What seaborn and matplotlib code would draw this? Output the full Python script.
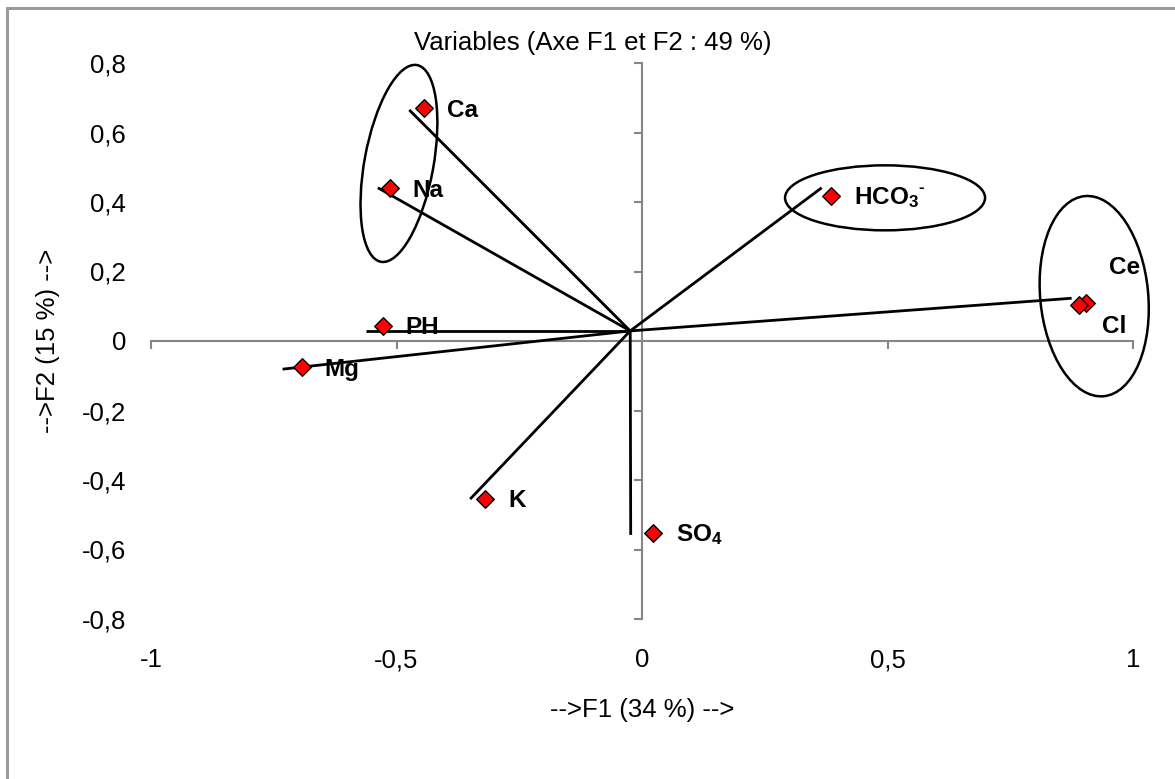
import matplotlib
matplotlib.use('Agg')
import matplotlib.pyplot as plt
from matplotlib.patches import Ellipse
from matplotlib.lines import Line2D
from matplotlib.transforms import ScaledTranslation
import seaborn as sns
import pandas as pd

# coordinates of the variables on F1 / F2
variables = ['Ca', 'Na', 'PH', 'Mg', 'HCO3', 'Ce', 'Cl', 'K', 'SO4']
f1 = [-0.444, -0.514, -0.528, -0.693, 0.385, 0.904, 0.891, -0.319, 0.022]
f2 = [0.670, 0.439, 0.044, -0.076, 0.418, 0.108, 0.104, -0.455, -0.552]
point_labels = ['Ca', 'Na', 'PH', 'Mg', r'HCO$_\mathbf{3}$',
                'Ce', 'Cl', 'K', r'SO$_\mathbf{4}$']

# hand drawn vectors, all leaving from one point near the origin
vec_start = (-0.024, 0.029)
vec_end_f1 = [-0.474, -0.538, -0.562, -0.732, 0.366, 0.875, -0.350, -0.023]
vec_end_f2 = [0.665, 0.441, 0.029, -0.081, 0.441, 0.123, -0.455, -0.558]

x_ticks = [-1, -0.5, 0, 0.5, 1]
x_ticklabels = ['-1', '-0,5', '0', '0,5', '1']
y_ticks = [-0.8, -0.6, -0.4, -0.2, 0, 0.2, 0.4, 0.6, 0.8]
y_ticklabels = ['-0,8', '-0,6', '-0,4', '-0,2', '0', '0,2', '0,4', '0,6', '0,8']

# circled groups: centre on F1/F2
group_f1 = [-0.495, 0.495, 0.921]
group_f2 = [0.511, 0.412, 0.129]

df = pd.DataFrame({'var': variables, 'F1': f1, 'F2': f2})

sns.set_theme(style='white')
plt.rcParams['font.family'] = ['Liberation Sans', 'DejaVu Sans']
plt.rcParams['text.color'] = 'black'
plt.rcParams['mathtext.fontset'] = 'custom'
plt.rcParams['mathtext.rm'] = 'Liberation Sans'
plt.rcParams['mathtext.bf'] = 'Liberation Sans:bold'
plt.rcParams['mathtext.it'] = 'Liberation Sans:italic'

W, H = 1175, 779
fig = plt.figure(figsize=(W / 100, H / 100), dpi=100)
fig.patch.set_facecolor('white')
rect = [151 / W, 1 - 619 / H, 982 / W, 556 / H]

# background axes only carries the tick labels (Excel puts them at the border)
ax_lab = fig.add_axes(rect)
ax = fig.add_axes(rect, sharex=ax_lab, sharey=ax_lab)
ax.patch.set_visible(False)
ax.set_xlim(-1, 1)
ax.set_ylim(-0.8, 0.8)
ax_lab.set_xticks(x_ticks)
ax_lab.set_xticklabels(x_ticklabels)
ax_lab.set_yticks(y_ticks)
ax_lab.set_yticklabels(y_ticklabels)
for s in ax_lab.spines.values():
    s.set_visible(False)
ax_lab.tick_params(axis='both', length=0, labelsize=18.5, colors='black')
ax_lab.tick_params(axis='x', pad=21)
ax_lab.tick_params(axis='y', pad=18)
ax_lab.grid(False)

# crossing axes through 0
gray = '#868686'
ax.spines['left'].set_position(('data', 0))
ax.spines['bottom'].set_position(('data', 0))
ax.spines['right'].set_visible(False)
ax.spines['top'].set_visible(False)
for side in ['left', 'bottom']:
    ax.spines[side].set_color(gray)
    ax.spines[side].set_linewidth(1.5)
    ax.spines[side].set_zorder(1)
ax.tick_params(axis='both', direction='out', length=5.5, width=1.5, color=gray,
               labelleft=False, labelbottom=False, left=True, bottom=True)
ax.grid(False)

# vectors
for ex, ey in zip(vec_end_f1, vec_end_f2):
    ax.plot([vec_start[0], ex], [vec_start[1], ey], color='black', lw=2, zorder=3,
            solid_capstyle='butt')

sns.scatterplot(data=df, x='F1', y='F2', marker='D', s=80, color='red',
                edgecolor='black', linewidth=1, ax=ax, zorder=4, legend=False)
ax.set_xlabel('')
ax.set_ylabel('')

offsets = {'Ce': (16.5, 21), 'Cl': (16.5, -20)}
for name, lab, x, y in zip(variables, point_labels, f1, f2):
    dx, dy = offsets.get(name, (16.5, -6))
    ax.annotate(lab, (x, y), xytext=(dx, dy), textcoords='offset points',
                fontsize=17.5, fontweight='bold', va='baseline', ha='left',
                color='black', zorder=5)
    if name == 'HCO3':
        # the charge sign sits after the subscript, Excel style
        ax.annotate('-', (x, y), xytext=(dx + 46.5, dy + 9), textcoords='offset points',
                    fontsize=12, fontweight='bold', va='baseline', ha='left',
                    color='black', zorder=5)

# ellipses around the groups (sizes in inches so they are not skewed)
group_w = [0.69, 2.00, 1.08]
group_h = [2.00, 0.65, 2.01]
group_angle = [-10.4, 0, 5.4]
for cx, cy, w, h, a in zip(group_f1, group_f2, group_w, group_h, group_angle):
    tr = fig.dpi_scale_trans + ScaledTranslation(cx, cy, ax.transData)
    ax.add_artist(Ellipse((0, 0), w, h, angle=a, transform=tr, fill=False,
                          edgecolor='black', lw=1.8, zorder=3, clip_on=False))

fig.text(593 / W, 1 - 43 / H, 'Variables (Axe F1 et F2 : 49 %)', ha='center',
         va='center', fontsize=18.5)
fig.text(642 / W, 1 - 710 / H, '-->F1 (34 %) -->', ha='center', va='center',
         fontsize=18.5)
fig.text(48 / W, 1 - 341 / H, '-->F2 (15 %) -->', ha='center', va='center',
         fontsize=18.5, rotation=90)

# chart area border (right and bottom are cut off in the original)
border = '#9a9a9a'
fig.add_artist(Line2D([7 / W, 7 / W], [0, 1 - 8 / H], color=border, lw=2.2))
fig.add_artist(Line2D([7 / W, 1], [1 - 8 / H, 1 - 8 / H], color=border, lw=2.2))

fig.savefig('out.png', dpi=100)
